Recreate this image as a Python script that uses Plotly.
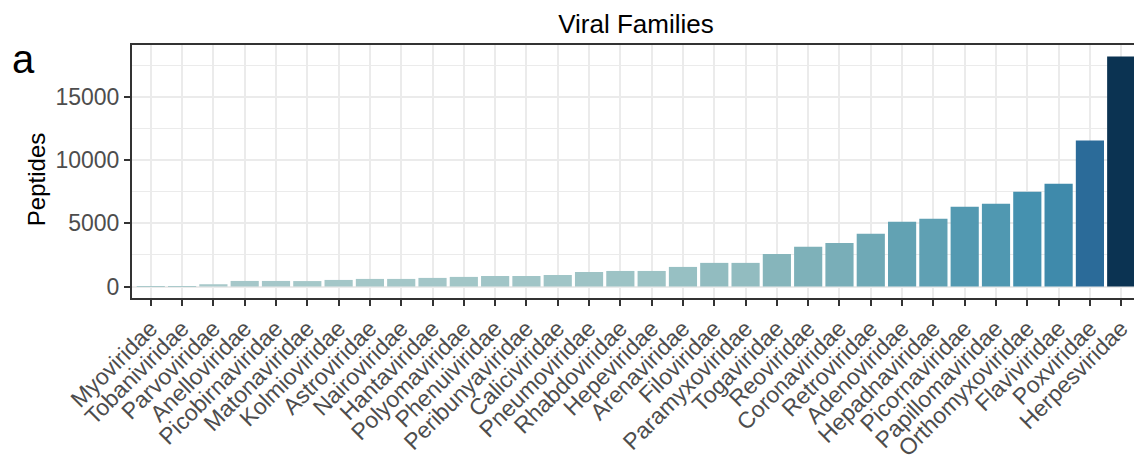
import plotly.graph_objects as go

families = ["Myoviridae", "Tobaniviridae", "Parvoviridae", "Anelloviridae", "Picobirnaviridae",
            "Matonaviridae", "Kolmioviridae", "Astroviridae", "Nairoviridae", "Hantaviridae",
            "Polyomaviridae", "Phenuiviridae", "Peribunyaviridae", "Caliciviridae", "Pneumoviridae",
            "Rhabdoviridae", "Hepeviridae", "Arenaviridae", "Filoviridae", "Paramyxoviridae",
            "Togaviridae", "Reoviridae", "Coronaviridae", "Retroviridae", "Adenoviridae",
            "Hepadnaviridae", "Picornaviridae", "Papillomaviridae", "Orthomyxoviridae",
            "Flaviviridae", "Poxviridae", "Herpesviridae"]
peptides = [30, 30, 180, 440, 440, 430, 520, 600, 600, 680, 760, 830, 830, 910, 1150,
            1230, 1230, 1550, 1870, 1870, 2580, 3140, 3450, 4170, 5120, 5360, 6310, 6550,
            7500, 8130, 11550, 18210]
y_ticks = [0, 5000, 10000, 15000]
y_tick_labels = ["0", "5000", "10000", "15000"]

vmax = max(peptides)
colorscale = [
    [0.0, "#AACACB"],
    [0.067, "#9DC3C5"],
    [0.14, "#86B5BB"],
    [0.28, "#62A2B3"],
    [0.41, "#4591AF"],
    [0.447, "#3F8AAB"],
    [0.634, "#2B6B99"],
    [1.0, "#0B3352"],
]

FONT = "Liberation Sans, Arial, sans-serif"
# the page body has an 8px default margin; layout offsets compensate for it
OFF = 8

fig = go.Figure(go.Bar(
    x=families, y=peptides, width=0.9,
    marker=dict(color=peptides, colorscale=colorscale, cmin=0, cmax=vmax, line=dict(width=0)),
    showlegend=False,
))

fig.update_layout(
    width=1142, height=455,
    margin=dict(l=132 - OFF, r=2 + OFF, t=45 - OFF, b=157 + OFF, autoexpand=False),
    paper_bgcolor="white", plot_bgcolor="white",
    font=dict(family=FONT, size=23, color="#4D4D4D"),
    title=dict(text="Viral Families", x=(132 + 1140) / 2 / 1142 - OFF / 1142, xanchor="center",
               y=1 - (24 - OFF) / 455, yanchor="middle", font=dict(size=26, color="black", family=FONT)),
    annotations=[
        dict(text="a", xref="paper", yref="paper", x=-0.121, y=0.944,
             xanchor="left", yanchor="middle", showarrow=False,
             font=dict(size=40, color="black", family=FONT)),
        dict(text="Peptides", xref="paper", yref="paper", x=-0.0952, y=0.466,
             xanchor="center", yanchor="middle", textangle=-90, showarrow=False,
             font=dict(size=24, color="black", family=FONT)),
    ],
)

fig.update_xaxes(
    range=[-0.6, len(families) - 0.4],
    tickangle=-45, automargin=False,
    showgrid=True, gridcolor="#EBEBEB", gridwidth=2.2,
    showline=True, mirror=True, linecolor="#333333", linewidth=2,
    ticks="outside", ticklen=6, tickwidth=2, tickcolor="#333333",
    tickfont=dict(size=23, color="#4D4D4D"),
)
fig.update_yaxes(
    range=[-0.05 * vmax, 1.05 * vmax],
    tickvals=y_ticks, ticktext=y_tick_labels, automargin=False,
    showgrid=True, gridcolor="#EBEBEB", gridwidth=2.2,
    minor=dict(dtick=2500, tick0=0, showgrid=True, gridcolor="#EBEBEB", gridwidth=1.2),
    zeroline=False,
    showline=True, mirror=True, linecolor="#333333", linewidth=2,
    ticks="outside", ticklen=6, tickwidth=2, tickcolor="#333333",
    tickfont=dict(size=23, color="#4D4D4D"),
)

fig.write_html("out.html")
